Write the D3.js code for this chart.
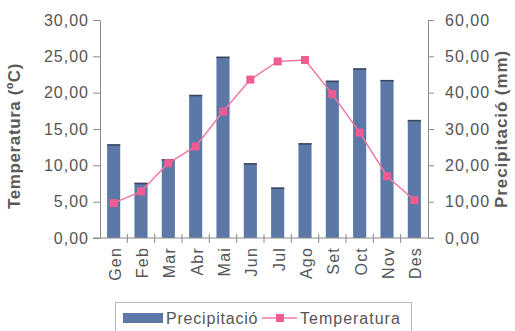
<!DOCTYPE html>
<html>
<head>
<meta charset="utf-8">
<script src="https://cdn.jsdelivr.net/npm/d3@7"></script>
<style>
  html, body { margin: 0; padding: 0; background: #fff; }
  svg { display: block; font-family: "Liberation Sans", Arial, sans-serif; }
</style>
</head>
<body>
<svg id="chart" width="515" height="331"></svg>
<script>
// Monthly climate data
const months = ["Gen", "Feb", "Mar", "Abr", "Mai", "Jun", "Jul", "Ago", "Set", "Oct", "Nov", "Des"];
const precipitacio = [25.8, 15.2, 21.7, 39.4, 49.9, 20.6, 13.9, 26.1, 43.3, 46.7, 43.5, 32.5];
const temperatura = [4.8, 6.4, 10.3, 12.6, 17.4, 21.8, 24.3, 24.5, 19.8, 14.5, 8.5, 5.2];
const tempTicks = [0, 5, 10, 15, 20, 25, 30];
const precTicks = [0, 10, 20, 30, 40, 50, 60];

const svg = d3.select("#chart");
const plotLeft = 100, plotRight = 428, plotTop = 20, plotBottom = 238;
const textColor = "#555";
const axisColor = "#8a8a8a";
const barColor = "#5b78a6";
const lineColor = "#f07aa0";
const markColor = "#ee5c92";

const fmt = v => d3.format(".2f")(v).replace(".", ",");

const x = d3.scaleBand().domain(months).range([plotLeft, plotRight]).paddingInner(0.52).paddingOuter(0.26);
const yT = d3.scaleLinear().domain([0, 30]).range([plotBottom, plotTop]);
const yP = d3.scaleLinear().domain([0, 60]).range([plotBottom, plotTop]);

// Bars (precipitation, right axis)
svg.append("g").selectAll("rect").data(precipitacio).join("rect")
  .attr("x", (d, i) => x(months[i]))
  .attr("y", d => yP(d))
  .attr("width", x.bandwidth())
  .attr("height", d => plotBottom - yP(d))
  .attr("fill", barColor);
svg.append("g").selectAll("line").data(precipitacio).join("line")
  .attr("x1", (d, i) => x(months[i]))
  .attr("x2", (d, i) => x(months[i]) + x.bandwidth())
  .attr("y1", d => yP(d) + 0.75).attr("y2", d => yP(d) + 0.75)
  .attr("stroke", "#3a4660").attr("stroke-width", 1.5);

// Temperature line (left axis)
const cx = i => x(months[i]) + x.bandwidth() / 2;
svg.append("path").datum(temperatura)
  .attr("fill", "none").attr("stroke", lineColor).attr("stroke-width", 1.5)
  .attr("d", d3.line().x((d, i) => cx(i)).y(d => yT(d)));
svg.append("g").selectAll("rect").data(temperatura).join("rect")
  .attr("x", (d, i) => cx(i) - 4).attr("y", d => yT(d) - 4)
  .attr("width", 8).attr("height", 8).attr("fill", markColor);

// Axes
function styleAxis(g) {
  g.selectAll("path, line").attr("stroke", axisColor);
  g.selectAll("text").attr("fill", textColor).attr("font-size", 16)
    .attr("letter-spacing", 1.0);
}
svg.append("g").attr("transform", `translate(${plotLeft},0)`)
  .call(d3.axisLeft(yT).tickValues(tempTicks).tickFormat(fmt).tickSize(7).tickSizeOuter(0).tickPadding(4))
  .call(styleAxis);
svg.append("g").attr("transform", `translate(${plotRight},0)`)
  .call(d3.axisRight(yP).tickValues(precTicks).tickFormat(fmt).tickSize(6).tickSizeOuter(0).tickPadding(11))
  .call(styleAxis);

// X axis with ticks between categories
const xg = svg.append("g").attr("transform", `translate(0,${plotBottom})`);
xg.append("line").attr("x1", plotLeft - 7).attr("x2", plotRight + 6).attr("stroke", axisColor);
xg.selectAll("line.tk").data(d3.range(1, months.length)).join("line")
  .attr("class", "tk")
  .attr("x1", i => plotLeft + (plotRight - plotLeft) * i / months.length)
  .attr("x2", i => plotLeft + (plotRight - plotLeft) * i / months.length)
  .attr("y1", -4).attr("y2", 5).attr("stroke", axisColor);
xg.selectAll("text").data(months).join("text")
  .attr("transform", d => `translate(${x(d) + x.bandwidth() / 2 + 7},9) rotate(-90)`)
  .attr("text-anchor", "end")
  .attr("fill", textColor).attr("font-size", 16).attr("letter-spacing", 1.2)
  .text(d => d);

// Axis titles
svg.append("text")
  .attr("transform", `translate(20,136) rotate(-90)`)
  .attr("text-anchor", "middle").attr("font-size", 17).attr("font-weight", "bold")
  .attr("letter-spacing", 0.6)
  .attr("fill", "#5a5a5a").text("Temperatura (ºC)");
svg.append("text")
  .attr("transform", `translate(507,129) rotate(-90)`)
  .attr("text-anchor", "middle").attr("font-size", 17).attr("font-weight", "bold")
  .attr("letter-spacing", 0.9)
  .attr("fill", "#5a5a5a").text("Precipitació (mm)");

// Legend
const lg = svg.append("g");
lg.append("rect").attr("x", 115.5).attr("y", 302.5).attr("width", 296).attr("height", 40)
  .attr("fill", "#fff").attr("stroke", "#b8b8b8");
lg.append("rect").attr("x", 123).attr("y", 313).attr("width", 40).attr("height", 10).attr("fill", barColor);
lg.append("text").attr("x", 166).attr("y", 324).attr("font-size", 16).attr("letter-spacing", 0.8)
  .attr("fill", textColor).text("Precipitació");
lg.append("line").attr("x1", 262).attr("x2", 297).attr("y1", 318).attr("y2", 318)
  .attr("stroke", lineColor).attr("stroke-width", 1.5);
lg.append("rect").attr("x", 276).attr("y", 314).attr("width", 8).attr("height", 8).attr("fill", markColor);
lg.append("text").attr("x", 300).attr("y", 324).attr("font-size", 16).attr("letter-spacing", 1.0)
  .attr("fill", textColor).text("Temperatura");
</script>
</body>
</html>
